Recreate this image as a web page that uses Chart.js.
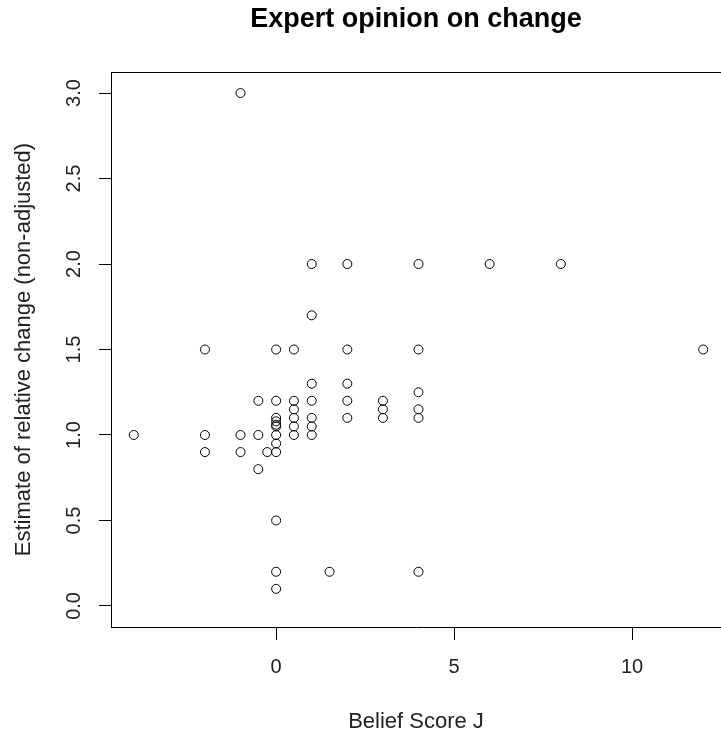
<!DOCTYPE html>
<html>
<head>
<meta charset="utf-8">
<script src="https://cdn.jsdelivr.net/npm/chart.js@4/dist/chart.umd.min.js"></script>
<style>
  body { margin: 0; background: #fff; overflow: hidden; }
</style>
</head>
<body>
<canvas id="plot" width="721" height="733"></canvas>
<script>
// Belief score (x) and estimate of relative change (y), one pair per expert
const beliefScore = [
  -1,
  1, 2, 4, 6, 8,
  1,
  -2, 0, 0.5, 2, 4, 12,
  1, 2,
  4,
  -0.5, 0, 0.5, 1, 2, 3,
  0.5, 3, 4,
  0, 0.5, 1, 2, 3, 4,
  0, 0,
  0, 0.5, 1,
  -4, -2, -1, -0.5, 0, 0.5, 1,
  0,
  -2, -1, -0.25, 0,
  -0.5,
  0,
  0, 1.5, 4,
  0
];
const relChange = [
  3.0,
  2.0, 2.0, 2.0, 2.0, 2.0,
  1.7,
  1.5, 1.5, 1.5, 1.5, 1.5, 1.5,
  1.3, 1.3,
  1.25,
  1.2, 1.2, 1.2, 1.2, 1.2, 1.2,
  1.15, 1.15, 1.15,
  1.1, 1.1, 1.1, 1.1, 1.1, 1.1,
  1.08, 1.06,
  1.05, 1.05, 1.05,
  1.0, 1.0, 1.0, 1.0, 1.0, 1.0, 1.0,
  0.95,
  0.9, 0.9, 0.9, 0.9,
  0.8,
  0.5,
  0.2, 0.2, 0.2,
  0.1
];
const xTicks = [0, 5, 10];
const yTicks = [0, 0.5, 1, 1.5, 2, 2.5, 3];

const points = beliefScore.map((x, i) => ({ x: x, y: relChange[i] }));

// R draws a full box round the plot; the axes give left and bottom, this adds the top
const topBorder = {
  id: 'topBorder',
  afterDraw(chart) {
    const a = chart.chartArea;
    const ctx = chart.ctx;
    ctx.save();
    ctx.strokeStyle = '#000';
    ctx.lineWidth = 1;
    ctx.beginPath();
    ctx.moveTo(a.left, a.top + 0.5);
    ctx.lineTo(a.right, a.top + 0.5);
    ctx.stroke();
    ctx.restore();
  }
};

const font = "'Liberation Sans', Arial, sans-serif";

new Chart(document.getElementById('plot'), {
  type: 'scatter',
  data: {
    datasets: [{
      data: points,
      pointStyle: 'circle',
      pointRadius: 4.5,
      pointBorderWidth: 1,
      pointBorderColor: '#000',
      pointBackgroundColor: 'rgba(0,0,0,0)'
    }]
  },
  options: {
    responsive: false,
    animation: false,
    devicePixelRatio: 1,
    layout: { padding: 0, autoPadding: false },
    plugins: {
      legend: { display: false },
      tooltip: { enabled: false },
      title: {
        display: true,
        fullSize: false,
        text: 'Expert opinion on change',
        color: '#000',
        font: { family: font, size: 27, weight: 'bold' },
        padding: { top: 3, bottom: 36.6 }
      }
    },
    scales: {
      x: {
        type: 'linear',
        min: -4.64,
        max: 12.5,
        afterBuildTicks: s => { s.ticks = xTicks.map(v => ({ value: v })); },
        afterFit: s => { s.height = 106; s.paddingLeft = 0; s.paddingRight = 0; },
        border: { display: true, color: '#000', width: 1 },
        grid: { drawOnChartArea: false, drawTicks: true, tickLength: 13, color: '#000' },
        ticks: { color: '#222', font: { family: font, size: 20 }, padding: 15 },
        title: {
          display: true,
          text: 'Belief Score J',
          color: '#222',
          font: { family: font, size: 22, lineHeight: 1 },
          padding: { top: 0, bottom: 0 }
        }
      },
      y: {
        type: 'linear',
        min: -0.123,
        max: 3.123,
        afterBuildTicks: s => { s.ticks = yTicks.map(v => ({ value: v })); },
        afterFit: s => { s.width = 111; },
        border: { display: true, color: '#000', width: 1 },
        grid: { drawOnChartArea: false, drawTicks: true, tickLength: 12, color: '#000' },
        ticks: {
          color: '#222',
          font: { family: font, size: 20 },
          minRotation: 90,
          maxRotation: 90,
          crossAlign: 'center',
          padding: 11,
          callback: v => v.toFixed(1)
        },
        title: {
          display: true,
          text: 'Estimate of relative change (non-adjusted)',
          color: '#222',
          font: { family: font, size: 22, lineHeight: 1 },
          padding: { top: 13, bottom: 0 }
        }
      }
    }
  },
  plugins: [topBorder]
});
</script>
</body>
</html>
